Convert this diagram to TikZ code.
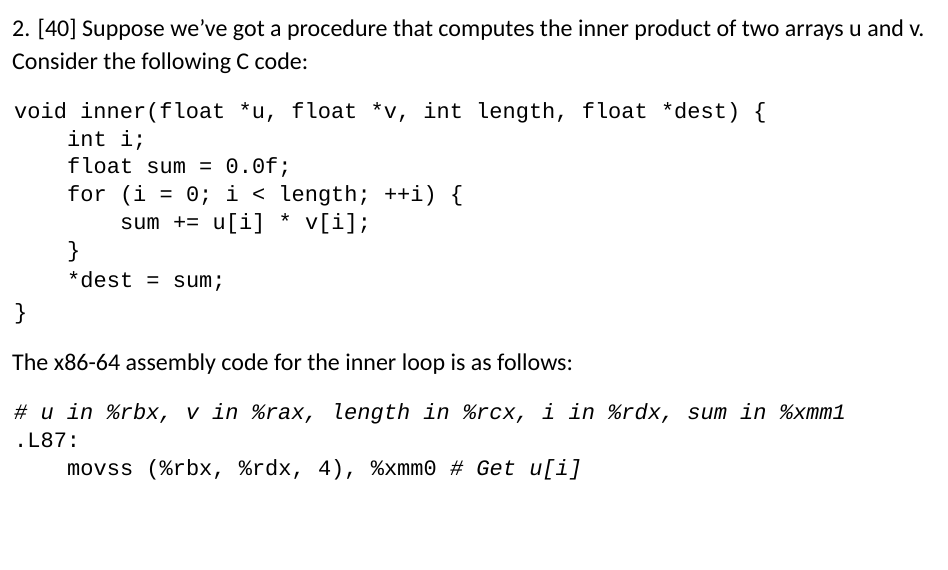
\documentclass[tikz,border=0pt]{standalone}
\usepackage{fontspec}
\setmainfont{Carlito}
\newfontfamily\cmono{Liberation Mono}
\begin{document}
\begin{tikzpicture}[x=1bp,y=-1bp,
  prose/.style={anchor=base west,inner sep=0pt,font=\fontsize{24bp}{28bp}\selectfont},
  code/.style={anchor=base west,inner sep=0pt,font=\cmono\fontsize{22bp}{24bp}\selectfont}]
\useasboundingbox[fill=white] (0,0) rectangle (948,570);
\node[prose] (t1) at (12,37) {2. [40] Suppose we’ve got a procedure that computes the inner product of two arrays u and v.};
\node[prose] (t2) at (12,70) {Consider the following C code:};
\node[code] (c1) at (14,119) {void inner(float *u, float *v, int length, float *dest) \{};
\node[code] (c2) at (67,147) {int i;};
\node[code] (c3) at (67,174) {float sum = 0.0f;};
\node[code] (c4) at (67,202) {for (i = 0; i < length; ++i) \{};
\node[code] (c5) at (120,230) {sum += u[i] * v[i];};
\node[code] (c6) at (67,258) {\}};
\node[code] (c7) at (67,287) {*dest = sum;};
\node[code] (c8) at (14,319) {\}};
\node[prose] (t3) at (12,370) {The x86-64 assembly code for the inner loop is as follows:};
\node[code,font=\cmono\itshape\fontsize{22bp}{24bp}\selectfont] (a1) at (14,419) {\# u in \%rbx, v in \%rax, length in \%rcx, i in \%rdx, sum in \%xmm1};
\node[code] (a2) at (14,447) {.L87:};
\node[code] (a3) at (67,475) {movss (\%rbx, \%rdx, 4), \%xmm0 \textit{\# Get u[i]}};
\end{tikzpicture}
\end{document}
